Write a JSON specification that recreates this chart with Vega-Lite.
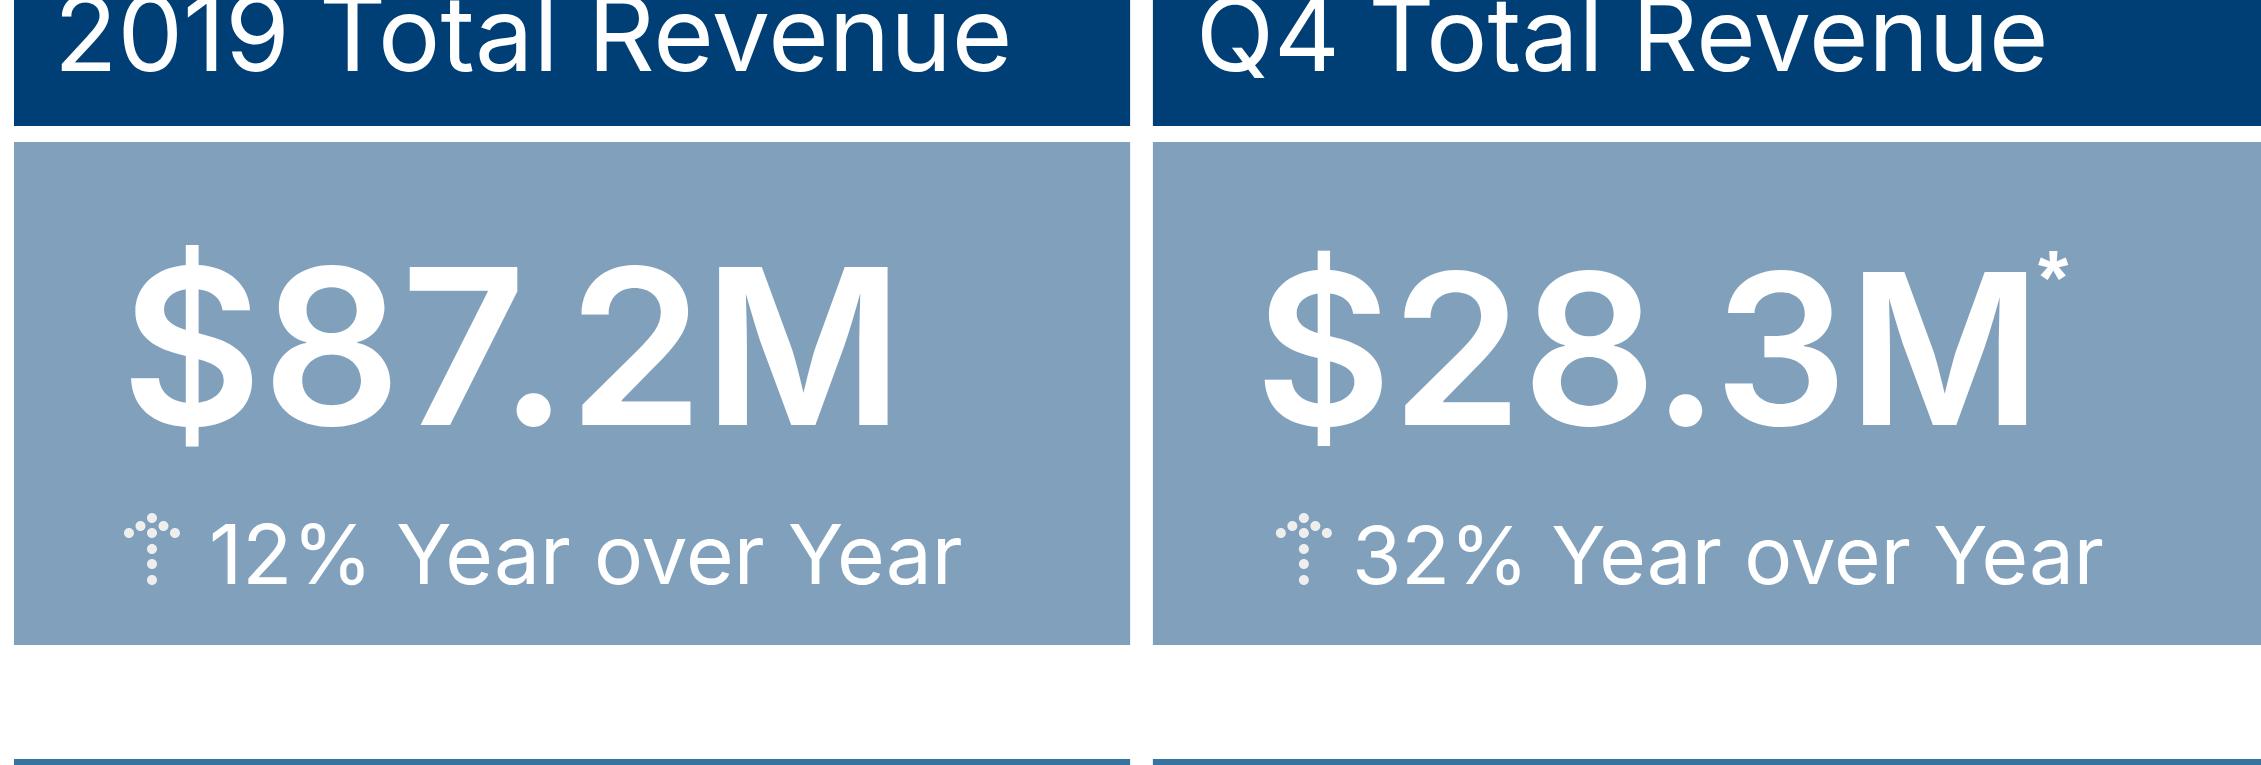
{
"$schema":"https://vega.github.io/schema/vega-lite/v6.json",
"width":2261,"height":765,"autosize":"none","padding":0,"background":"#ffffff",
"config":{"view":{"stroke":null},"axis":{"domain":false,"ticks":false,"labels":false,"title":null,"grid":false}},
"data":{"values":[
{"card":"2019","title":"2019 Total Revenue","value":"$87.2M","change":"12% Year over Year"},
{"card":"Q4","title":"Q4 Total Revenue","value":"$28.3M","change":"32% Year over Year","note":"*"}
]},
"encoding":{"x":{"field":"card","type":"nominal","axis":null,"scale":{"domain":["2019","Q4"],"range":[14,2269],"paddingInner":0.02,"paddingOuter":0}}},
"resolve":{"scale":{"y":"shared"}},
"layer":[
{"mark":{"type":"rect","color":"#003F75"},"encoding":{"y":{"datum":0,"type":"quantitative","axis":null,"scale":{"domain":[0,765],"range":[0,765],"nice":false,"zero":false}},"y2":{"datum":126}}},
{"mark":{"type":"rect","color":"#81A0BC"},"encoding":{"y":{"datum":142,"type":"quantitative","axis":null},"y2":{"datum":645}}},
{"mark":{"type":"rect","color":"#36739F"},"encoding":{"y":{"datum":759,"type":"quantitative","axis":null},"y2":{"datum":765}}},
{"mark":{"type":"text","align":"left","baseline":"alphabetic","font":"Inter","fontWeight":400,"fontSize":{"expr":"datum.card=='Q4'?102:104"},"color":"#ffffff","xOffset":{"expr":"datum.card=='Q4'?43:40"}},"encoding":{"x":{"field":"card","type":"nominal","bandPosition":0},"y":{"datum":71,"type":"quantitative","axis":null},"text":{"field":"title"}}},
{"mark":{"type":"text","align":"left","baseline":"alphabetic","font":"Inter","fontWeight":600,"fontSize":{"expr":"datum.card=='Q4'?210:217"},"color":"#ffffff","xOffset":{"expr":"datum.card=='Q4'?102:107"}},"encoding":{"x":{"field":"card","type":"nominal","bandPosition":0},"y":{"datum":425,"type":"quantitative","axis":null},"text":{"field":"value"}}},
{"mark":{"type":"text","align":"left","baseline":"alphabetic","font":"Inter","fontWeight":400,"fontSize":{"expr":"datum.card=='Q4'?80:82"},"color":"#ffffff","xOffset":{"expr":"datum.card=='Q4'?199:195"}},"encoding":{"x":{"field":"card","type":"nominal","bandPosition":0},"y":{"datum":584,"type":"quantitative","axis":null},"text":{"field":"change"}}},
{"transform":[{"filter":"datum.note"}],"mark":{"type":"text","align":"left","baseline":"alphabetic","font":"Liberation Sans","fontWeight":"bold","fontSize":78,"color":"#ffffff","xOffset":885},"encoding":{"x":{"field":"card","type":"nominal","bandPosition":0},"y":{"datum":305,"type":"quantitative","axis":null},"text":{"field":"note"}}},
{"mark":{"type":"point","filled":true,"opacity":1,"color":"#EEEEEE","size":40000,"shape":"M-0.05,-0.31a0.05,0.05 0 1,0 0.1,0a0.05,0.05 0 1,0 -0.1,0ZM-0.165,-0.23a0.05,0.05 0 1,0 0.1,0a0.05,0.05 0 1,0 -0.1,0ZM0.065,-0.23a0.05,0.05 0 1,0 0.1,0a0.05,0.05 0 1,0 -0.1,0ZM-0.28,-0.16a0.05,0.05 0 1,0 0.1,0a0.05,0.05 0 1,0 -0.1,0ZM-0.05,-0.16a0.05,0.05 0 1,0 0.1,0a0.05,0.05 0 1,0 -0.1,0ZM0.18,-0.16a0.05,0.05 0 1,0 0.1,0a0.05,0.05 0 1,0 -0.1,0ZM-0.05,0a0.05,0.05 0 1,0 0.1,0a0.05,0.05 0 1,0 -0.1,0ZM-0.05,0.15a0.05,0.05 0 1,0 0.1,0a0.05,0.05 0 1,0 -0.1,0ZM-0.05,0.31a0.05,0.05 0 1,0 0.1,0a0.05,0.05 0 1,0 -0.1,0Z","xOffset":{"expr":"datum.card=='Q4'?151:138"}},"encoding":{"x":{"field":"card","type":"nominal","bandPosition":0},"y":{"datum":549,"type":"quantitative","axis":null}}}
]
}
